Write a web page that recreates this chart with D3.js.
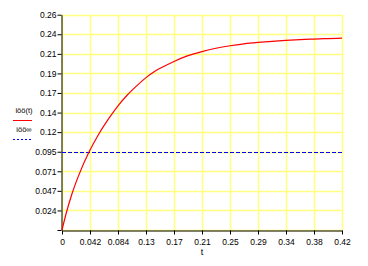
<!DOCTYPE html>
<html>
<head>
<meta charset="utf-8">
<script src="https://cdn.jsdelivr.net/npm/d3@7"></script>
<style>
    body { margin: 0; background: #fff; }
    text { font-family: "Liberation Sans", Arial, sans-serif; }
</style>
</head>
<body>
<div id="chart"></div>
<script>
'use strict';

// curve: time (s) and current
const tValues = [0, 0.0065, 0.015, 0.0255, 0.0405, 0.055, 0.07, 0.084, 0.098, 0.112, 0.126,
    0.14, 0.154, 0.168, 0.189, 0.21, 0.231, 0.252, 0.273, 0.294, 0.315, 0.336, 0.357, 0.378, 0.399, 0.42];
const iValues = [0, 0.0208, 0.0438, 0.0669, 0.0941, 0.1157, 0.1345, 0.150, 0.163, 0.174, 0.184,
    0.192, 0.198, 0.2035, 0.2105, 0.2155, 0.2195, 0.2225, 0.2248, 0.2265, 0.2279, 0.229, 0.2299, 0.2306, 0.2312, 0.2317];

// steady state level
const iInf = 0.0945;

const xTickValues = [0, 0.042, 0.084, 0.126, 0.168, 0.21, 0.252, 0.294, 0.336, 0.378, 0.42];
const xTickLabels = ["0", "0.042", "0.084", "0.13", "0.17", "0.21", "0.25", "0.29", "0.34", "0.38", "0.42"];
const yTickValues = [0, 0.0236, 0.0473, 0.0709, 0.0945, 0.1182, 0.1418, 0.1655, 0.1891, 0.2127, 0.2364, 0.26];
const yTickLabels = ["", "0.024", "0.047", "0.071", "0.095", "0.12", "0.14", "0.17", "0.19", "0.21", "0.24", "0.26"];

const legendLabels = ["iöö(t)", "iöö∞"];

const msm = {
    width: 368,
    height: 266,
    left: 62,
    right: 342,
    top: 14.7,
    bottom: 230
};

const plotChart = () => {
    const svg = d3.select("#chart")
        .append("svg")
        .attr("width", msm.width)
        .attr("height", msm.height);

    const x = d3.scaleLinear()
        .domain([0, 0.42])
        .range([msm.left, msm.right]);

    const y = d3.scaleLinear()
        .domain([0, 0.26])
        .range([msm.bottom, msm.top]);

    // yellow grid
    svg.append("g")
        .selectAll("line")
        .data(xTickValues)
        .enter()
        .append("line")
        .attr("x1", d => Math.round(x(d)) + 0.5)
        .attr("x2", d => Math.round(x(d)) + 0.5)
        .attr("y1", y(0.26))
        .attr("y2", y(0))
        .attr("stroke", "#ffff80")
        .attr("stroke-width", 1.5);

    svg.append("g")
        .selectAll("line")
        .data(yTickValues)
        .enter()
        .append("line")
        .attr("y1", d => Math.round(y(d)) + 0.5)
        .attr("y2", d => Math.round(y(d)) + 0.5)
        .attr("x1", x(0))
        .attr("x2", x(0.42))
        .attr("stroke", "#ffff80")
        .attr("stroke-width", 1.5);

    // axes
    const xAxis = d3.axisBottom(x)
        .tickValues(xTickValues)
        .tickFormat((d, i) => xTickLabels[i])
        .tickSize(4)
        .tickSizeOuter(0);

    const gx = svg.append("g")
        .attr("transform", "translate(0," + (msm.bottom + 0.5) + ")")
        .call(xAxis);

    const yAxis = d3.axisLeft(y)
        .tickValues(yTickValues)
        .tickFormat((d, i) => yTickLabels[i])
        .tickSize(4)
        .tickSizeOuter(0);

    const gy = svg.append("g")
        .attr("transform", "translate(" + (msm.left - 0.5) + ",0)")
        .call(yAxis);

    [gx, gy].forEach(g => {
        g.selectAll(".domain").attr("stroke", "#000").attr("stroke-width", 1);
        g.selectAll(".tick line").attr("stroke", "#000");
        g.selectAll("text")
            .attr("fill", "#000")
            .style("font-size", "8.5px")
            .style("font-family", "'Liberation Sans', Arial, sans-serif");
    });
    gx.selectAll(".tick text").attr("dy", "0.85em");
    gy.selectAll(".tick text").attr("x", -5);

    svg.append("text")
        .attr("x", 202)
        .attr("y", 255)
        .attr("text-anchor", "middle")
        .style("font-size", "9px")
        .text("t");

    // steady state dashed line
    svg.append("line")
        .attr("x1", x(0))
        .attr("x2", x(0.42))
        .attr("y1", Math.round(y(iInf)) + 0.5)
        .attr("y2", Math.round(y(iInf)) + 0.5)
        .attr("stroke", "#0000ff")
        .attr("stroke-width", 1)
        .attr("stroke-dasharray", "4,2");

    // current curve
    const points = tValues.map((t, i) => [t, iValues[i]]);
    svg.append("path")
        .datum(points)
        .attr("fill", "none")
        .attr("stroke", "#ff0000")
        .attr("stroke-width", 1.2)
        .attr("d", d3.line()
            .x(d => x(d[0]))
            .y(d => y(d[1]))
            .curve(d3.curveMonotoneX));

    // legend on the left
    const legend = svg.append("g");
    legend.append("text")
        .attr("x", 24)
        .attr("y", 113)
        .attr("text-anchor", "middle")
        .style("font-size", "7.5px")
        .text(legendLabels[0]);
    legend.append("line")
        .attr("x1", 13).attr("x2", 32)
        .attr("y1", 120.5).attr("y2", 120.5)
        .attr("stroke", "#ff0000");
    legend.append("text")
        .attr("x", 24)
        .attr("y", 131.5)
        .attr("text-anchor", "middle")
        .style("font-size", "7.5px")
        .text(legendLabels[1]);
    legend.append("line")
        .attr("x1", 13).attr("x2", 32)
        .attr("y1", 139.5).attr("y2", 139.5)
        .attr("stroke", "#0000ff")
        .attr("stroke-dasharray", "2,2");
}

plotChart();
</script>
</body>
</html>
